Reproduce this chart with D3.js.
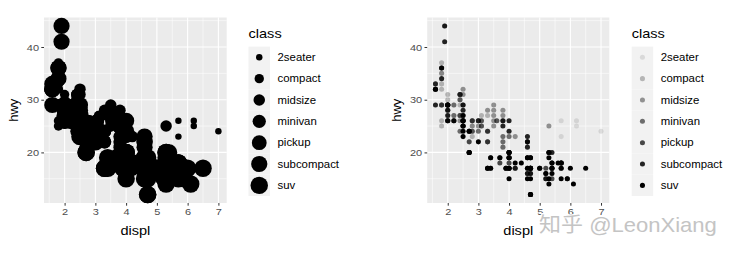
<!DOCTYPE html>
<html>
<head>
<meta charset="utf-8">
<script src="https://cdn.jsdelivr.net/npm/d3@7"></script>
<style>
html,body{margin:0;padding:0;background:#fff;}
svg{display:block;font-family:"Liberation Sans",Arial,Helvetica,sans-serif;}
</style>
</head>
<body>
<svg id="chart" width="736" height="256"></svg>
<script>
// ---- data (mpg: displ, hwy by class) ----
const classes = ["2seater","compact","midsize","minivan","pickup","subcompact","suv"];
const xTicks = [2,3,4,5,6,7];
const yTicks = [20,30,40];
const xMinor = [1.5,2.5,3.5,4.5,5.5,6.5];
const yMinor = [15,25,35,45];

const twoseater = [[5.7,26],[5.7,23],[6.2,26],[6.2,25],[7.0,24]];
const compact = [[1.8,29],[1.8,29],[2.0,31],[2.0,30],[2.8,26],[2.8,26],[3.1,27],
  [1.8,26],[1.8,25],[2.0,28],[2.0,27],[2.8,25],[2.8,25],[3.1,25],[3.1,25],
  [2.4,29],[2.4,27],[2.5,25],[2.5,27],[2.5,25],[2.5,27],
  [2.2,27],[2.2,29],[2.4,31],[2.4,31],[3.0,26],[3.0,26],[3.3,27],
  [1.8,33],[1.8,32],[1.8,35],[1.8,37],[1.8,35],
  [2.0,29],[2.0,26],[2.0,29],[2.0,29],[2.8,24],
  [1.9,44],[2.0,29],[2.0,26],[2.0,29],[2.0,29],[2.5,29],[2.5,29],[2.8,23],[2.8,24]];
const midsize = [[2.8,24],[3.1,25],[4.2,23],
  [2.4,27],[2.4,30],[3.1,26],[3.5,29],[3.6,26],
  [2.4,26],[2.4,27],[2.4,30],[2.4,31],[2.5,26],[2.5,26],[3.3,28],
  [2.5,31],[2.5,32],[3.5,27],[3.5,26],
  [3.0,26],[3.0,25],[3.5,25],
  [3.1,26],[3.8,26],[3.8,27],[3.8,28],[5.3,25],
  [2.2,29],[2.2,27],[2.4,31],[2.4,31],[3.0,26],[3.0,26],[3.5,28],
  [1.8,29],[1.8,29],[2.0,28],[2.0,29],[2.8,26],[2.8,26],[3.6,26]];
const minivan = [[2.4,24],[3.0,24],[3.3,22],[3.3,22],[3.3,24],[3.3,24],[3.3,17],[3.8,22],[3.8,21],[3.8,23],[4.0,23]];
const pickup = [[3.7,19],[3.7,18],[3.9,17],[3.9,17],[4.7,19],[4.7,19],[4.7,12],[5.2,17],[5.2,15],
  [4.7,16],[4.7,12],[4.7,17],[4.7,17],[4.7,16],[4.7,12],[5.2,15],[5.2,16],[5.7,17],[5.9,15],
  [4.2,17],[4.2,17],[4.6,16],[4.6,16],[4.6,17],[5.4,15],[5.4,17],
  [2.7,20],[2.7,20],[2.7,22],[3.4,17],[3.4,19],[4.0,18],[4.0,20]];
const subcompact = [[3.8,26],[3.8,25],[4.0,26],[4.0,24],[4.6,21],[4.6,22],[4.6,23],[4.6,22],[5.4,20],
  [1.6,33],[1.6,32],[1.6,32],[1.6,29],[1.6,32],[1.8,34],[1.8,36],[1.8,36],[2.0,29],
  [2.0,26],[2.0,29],[2.0,28],[2.0,27],[2.7,24],[2.7,24],[2.7,24],
  [2.2,26],[2.2,26],[2.5,26],[2.5,26],
  [1.9,44],[1.9,41],[2.0,29],[2.0,26],[2.5,28],[2.5,29]];
const suv = [[5.3,20],[5.3,15],[5.3,20],[5.7,17],[6.0,17],
  [5.3,19],[5.3,14],[5.7,15],[6.5,17],
  [3.9,17],[4.7,17],[4.7,12],[4.7,17],[5.2,16],[5.7,18],[5.9,15],
  [4.6,17],[5.4,17],[5.4,18],
  [4.0,17],[4.0,19],[4.0,17],[4.0,19],[4.6,19],[5.0,17],
  [3.0,22],[3.7,19],[4.0,20],[4.7,17],[4.7,12],[4.7,19],[5.7,18],[6.1,14],
  [4.0,15],[4.2,18],[4.4,18],[4.6,15],
  [5.4,17],[5.4,16],[5.4,18],
  [4.0,17],[4.0,19],[4.6,19],[5.0,17],
  [3.3,17],[3.3,17],[4.0,20],[5.6,18],
  [2.5,25],[2.5,24],[2.5,27],[2.5,25],[2.5,26],[2.5,23],
  [2.7,20],[2.7,20],[3.4,19],[3.4,17],[4.0,20],[4.7,17],
  [4.7,15],[5.7,18]];

const byClass = {"2seater":twoseater, compact, midsize, minivan, pickup, subcompact, suv};
const rows = [];
classes.forEach(c => byClass[c].forEach(p => rows.push({displ:p[0], hwy:p[1], cls:c})));

// ---- scales ----
const xExt = d3.extent(rows, d => d.displ);
const yExt = d3.extent(rows, d => d.hwy);
const xPad = (xExt[1]-xExt[0])*0.05, yPad = (yExt[1]-yExt[0])*0.05;
const xDom = [xExt[0]-xPad, xExt[1]+xPad];
const yDom = [yExt[0]-yPad, yExt[1]+yPad];

const PT = 0.97;
const sizeVals = d3.range(7).map(i => Math.sqrt(4 + i*(36-4)/6)); // ggplot size ordinal range c(2,6)
const sizeScale = d3.scaleOrdinal(classes, sizeVals);
const alphaScale = d3.scaleOrdinal(classes, d3.range(7).map(i => 0.1 + i*0.9/6));
const rOf = s => (s*2.845 + 0.945)*PT/2;

const svg = d3.select("#chart");
const FONT = "'Liberation Sans',Arial,Helvetica,sans-serif";
const SX = 1.12;

function stretch(sel, sx = SX) {
  sel.each(function() {
    const t = d3.select(this);
    const x = +t.attr("x") || 0, y = +t.attr("y") || 0;
    t.attr("x", null).attr("y", null).attr("transform", `translate(${x},${y}) scale(${sx},1)`);
  });
}

function panel(px0, px1, py0, py1, radius, alpha, legendX) {
  const x = d3.scaleLinear().domain(xDom).range([px0, px1]);
  const y = d3.scaleLinear().domain(yDom).range([py1, py0]);
  const g = svg.append("g");
  g.append("rect").attr("x", px0).attr("y", py0).attr("width", px1-px0).attr("height", py1-py0).attr("fill", "#EBEBEB");
  g.selectAll(".xmin").data(xMinor).join("line").attr("x1", d=>x(d)).attr("x2", d=>x(d)).attr("y1", py0).attr("y2", py1)
    .attr("stroke", "#fff").attr("stroke-width", 0.55);
  g.selectAll(".ymin").data(yMinor).join("line").attr("y1", d=>y(d)).attr("y2", d=>y(d)).attr("x1", px0).attr("x2", px1)
    .attr("stroke", "#fff").attr("stroke-width", 0.55);
  g.selectAll(".xmaj").data(xTicks).join("line").attr("x1", d=>x(d)).attr("x2", d=>x(d)).attr("y1", py0).attr("y2", py1)
    .attr("stroke", "#fff").attr("stroke-width", 1.1);
  g.selectAll(".ymaj").data(yTicks).join("line").attr("y1", d=>y(d)).attr("y2", d=>y(d)).attr("x1", px0).attr("x2", px1)
    .attr("stroke", "#fff").attr("stroke-width", 1.1);

  g.append("g").selectAll("circle").data(rows).join("circle")
    .attr("cx", d => x(d.displ)).attr("cy", d => y(d.hwy))
    .attr("r", d => radius(d.cls)).attr("fill", "#000").attr("fill-opacity", d => alpha(d.cls));

  // axes
  const xa = g.append("g").attr("transform", `translate(0,${py1})`)
    .call(d3.axisBottom(x).tickValues(xTicks).tickFormat(d3.format("d")).tickSize(2.7).tickPadding(2.5));
  const ya = g.append("g").attr("transform", `translate(${px0},0)`)
    .call(d3.axisLeft(y).tickValues(yTicks).tickFormat(d3.format("d")).tickSize(2.7).tickPadding(2.3));
  [xa, ya].forEach(a => {
    a.select(".domain").remove();
    a.selectAll(".tick line").attr("stroke", "#333").attr("stroke-width", 1);
    a.selectAll(".tick text").attr("fill", "#4D4D4D").style("font-size", "9.8px").style("font-family", FONT).call(stretch);
  });
  g.append("text").attr("x", (px0+px1)/2).attr("y", 234.5).attr("text-anchor", "middle")
    .style("font-size", "13px").style("font-family", FONT).text("displ").call(stretch);
  g.append("text").attr("transform", `translate(${px0-26.5},${(py0+py1)/2}) rotate(-90)`).attr("text-anchor", "middle")
    .style("font-size", "13px").style("font-family", FONT).text("hwy");

  // legend
  const lg = svg.append("g");
  lg.append("text").attr("x", legendX).attr("y", 37.5).style("font-size", "13px").style("font-family", FONT).text("class").call(stretch);
  const keyH = 21.35, keyW = 21.5, top = 46.6;
  const rowsG = lg.selectAll(".key").data(classes).join("g").attr("transform", (d,i) => `translate(${legendX},${top + i*keyH})`);
  rowsG.append("rect").attr("width", keyW).attr("height", keyH).attr("fill", "#F2F2F2");
  rowsG.append("circle").attr("cx", keyW/2).attr("cy", keyH/2).attr("r", d => radius(d))
    .attr("fill", "#000").attr("fill-opacity", d => alpha(d));
  rowsG.append("text").attr("x", keyW + 7.5).attr("y", keyH/2 + 3.6)
    .style("font-size", "10.2px").style("font-family", FONT).attr("fill", "#000").text(d => d).call(stretch);
}

panel(44, 226.7, 17.5, 203, c => rOf(sizeScale(c)), c => 1, 248.5);
panel(427.2, 609.3, 17.5, 203, c => rOf(1.5), c => alphaScale(c), 631.7);

// watermark
svg.append("text").attr("x", 539).attr("y", 231.5)
  .style("font-size", "20.5px").style("font-family", "'Liberation Sans','Noto Sans CJK SC',sans-serif")
  .attr("fill", "#c4c4c4").attr("stroke", "#fff").attr("stroke-width", 2.5).attr("paint-order", "stroke")
  .text("知乎 @LeonXiang").call(stretch, 1.075);
</script>
</body>
</html>
